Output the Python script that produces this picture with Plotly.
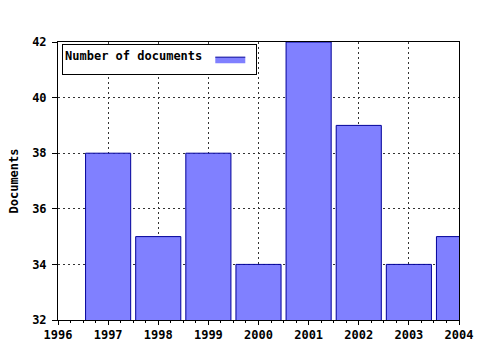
import plotly.graph_objects as go

years = [1997, 1998, 1999, 2000, 2001, 2002, 2003, 2004]
documents = [38, 35, 38, 34, 42, 39, 34, 35]
series_name = "Number of documents"
y_title = "Documents"
x_ticks = [1996, 1997, 1998, 1999, 2000, 2001, 2002, 2003, 2004]
y_ticks = [32, 34, 36, 38, 40, 42]

FONT = dict(family="DejaVu Sans Mono", size=12, color="black", weight="bold")
FILL = "#8080ff"
EDGE = "#000099"

fig = go.Figure()
fig.add_trace(go.Bar(
    x=years, y=documents, name=series_name,
    marker=dict(color=FILL, line=dict(color=EDGE, width=1)),
    width=0.9, showlegend=False,
))
# legend key (30x6 filled box, as in the reference)
fig.add_trace(go.Scatter(
    x=[None], y=[None], name="", mode="lines", fill="toself",
    fillcolor=FILL, line=dict(color=EDGE, width=1), showlegend=True,
))

GRID = dict(showgrid=True, gridcolor="#333", griddash="2px,3px", gridwidth=1)

fig.update_layout(
    width=480, height=350,
    margin=dict(l=58, r=21, t=42, b=30),
    paper_bgcolor="white", plot_bgcolor="white",
    font=FONT,
    showlegend=True,
    legend=dict(
        title=dict(text=series_name, side="left", font=FONT),
        orientation="h",
        x=0.01, y=0.994, xanchor="left", yanchor="top",
        bordercolor="black", borderwidth=1, bgcolor="white",
        font=dict(family="DejaVu Sans Mono", size=6, color="black"),
        itemwidth=30, tracegroupgap=0, entrywidth=0,
    ),
    xaxis=dict(
        range=[1996, 2004], tickvals=x_ticks, ticktext=[str(v) for v in x_ticks],
        showline=True, linecolor="black", linewidth=1, mirror=True,
        ticks="outside", ticklen=4, tickcolor="black",
        minor=dict(dtick=0.25, ticks="outside", ticklen=2, tickcolor="black", showgrid=False),
        zeroline=False, tickfont=FONT, automargin=False, **GRID,
    ),
    xaxis2=dict(
        range=[1996, 2004], overlaying="x", side="top", anchor="y",
        tickvals=x_ticks, showticklabels=False,
        ticks="inside", ticklen=4, tickcolor="black",
        minor=dict(dtick=0.25, ticks="inside", ticklen=2, tickcolor="black"),
        showgrid=False, zeroline=False, showline=False, automargin=False,
    ),
    yaxis=dict(
        range=[32, 42], tickvals=y_ticks,
        showline=True, linecolor="black", linewidth=1, mirror=True,
        ticks="outside", ticklen=5, tickcolor="black",
        zeroline=False, tickfont=FONT, ticklabelstandoff=3, automargin=False,
        title=dict(text=y_title, font=FONT, standoff=10),
        **GRID,
    ),
)

fig.write_html("out.html")
